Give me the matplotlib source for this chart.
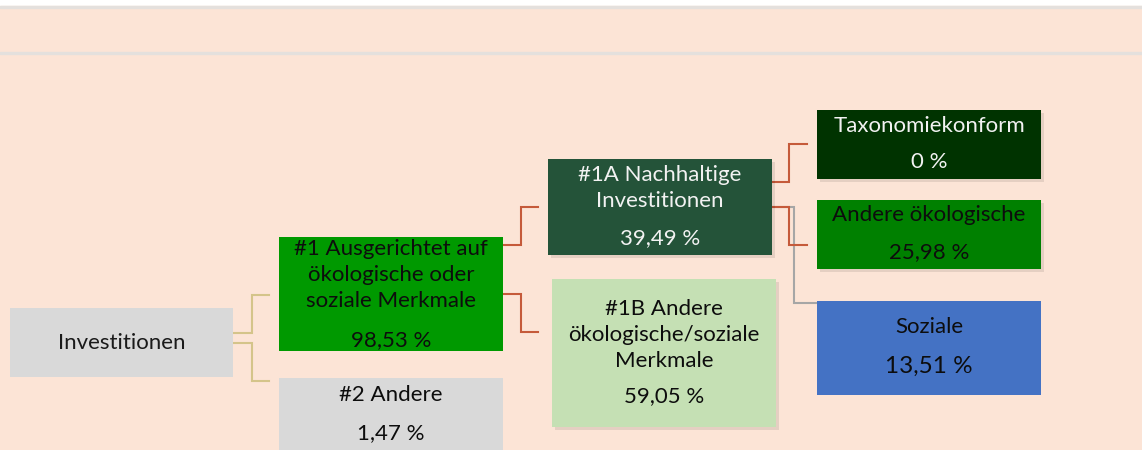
import matplotlib.pyplot as plt
from matplotlib.patches import Rectangle

plt.rcParams['font.family'] = ['Lato', 'DejaVu Sans']

# categories and shares (in %)
labels = [
    "Investitionen",
    "#1 Ausgerichtet auf\nökologische oder\nsoziale Merkmale",
    "#2 Andere",
    "#1A Nachhaltige\nInvestitionen",
    "#1B Andere\nökologische/soziale\nMerkmale",
    "Taxonomiekonform",
    "Andere ökologische",
    "Soziale",
]
values = [None, 98.53, 1.47, 39.49, 59.05, 0, 25.98, 13.51]

# box layout in pixels: x0, y0, x1, y1, title centre y, value y
boxes = [
    (10, 308, 233, 377, 343, None),
    (279, 237, 503, 351, 275, 340),
    (279, 378, 503, 452, 395, 433),
    (548, 159, 772, 255, 188, 238),
    (552, 279, 776, 427, 335, 396),
    (817, 110, 1041, 179, 126, 162),
    (817, 200, 1041, 269, 215, 252),
    (817, 301, 1041, 395, 327, 366),
]
fills = ['#d9d9d9', '#009900', '#d9d9d9', '#245339', '#c5e0b4', '#003300', '#008000', '#4472c4']
text_colors = ['#1a1a1a', '#0d0d0d', '#0d0d0d', '#f2f2f2', '#0d0d0d', '#f2f2f2', '#0d0d0d', '#0d0d0d']
shadow = [False, False, False, True, True, True, True, False]
value_size = [16, 16, 16, 16, 16, 16, 16, 17.5]

# connectors (polylines in pixels)
connectors = [
    ([233, 252, 252, 269], [333, 333, 295, 295], '#d4c48a'),
    ([233, 252, 252, 269], [343, 343, 381, 381], '#d4c48a'),
    ([503, 521, 521, 538], [245, 245, 207, 207], '#c55a3a'),
    ([503, 521, 521, 538], [294, 294, 332, 332], '#c55a3a'),
    ([772, 794, 794, 817], [207, 207, 303, 303], '#a6a6a6'),
    ([772, 789, 789, 807], [182, 182, 144, 144], '#c55a3a'),
    ([772, 789, 789, 807], [207, 207, 245, 245], '#c55a3a'),
]


def fmt(v):
    if v == 0:
        return "0 %"
    return f"{v:.2f}".replace('.', ',') + " %"


fig = plt.figure(figsize=(11.42, 4.5), dpi=100)
ax = fig.add_axes([0, 0, 1, 1])
ax.set_xlim(0, 1142)
ax.set_ylim(450, 0)
ax.axis('off')

# background bands
ax.add_patch(Rectangle((0, 6), 1142, 450, color='#fce4d6', zorder=0))
ax.add_patch(Rectangle((0, 5.5), 1142, 2.5, color='#e4e0dd', zorder=1))
ax.add_patch(Rectangle((0, 51.5), 1142, 2.5, color='#e4e0dd', zorder=1))

for xs, ys, c in connectors:
    ax.plot(xs, ys, color=c, lw=1.5, solid_joinstyle='miter', zorder=2)

for i, lab in enumerate(labels):
    x0, y0, x1, y1, ty, vy = boxes[i]
    if shadow[i]:
        ax.add_patch(Rectangle((x0 + 2.5, y0 + 3), x1 - x0, y1 - y0,
                               color='#000000', alpha=0.09, lw=0, zorder=3))
    ax.add_patch(Rectangle((x0, y0), x1 - x0, y1 - y0, color=fills[i], lw=0, zorder=4))
    cx = (x0 + x1) / 2
    ax.text(cx, ty, lab, ha='center', va='center', fontsize=16,
            color=text_colors[i], linespacing=1.4, zorder=5)
    if values[i] is not None:
        ax.text(cx, vy, fmt(values[i]), ha='center', va='center',
                fontsize=value_size[i], color=text_colors[i], zorder=5)

fig.savefig('out.png', dpi=100)
